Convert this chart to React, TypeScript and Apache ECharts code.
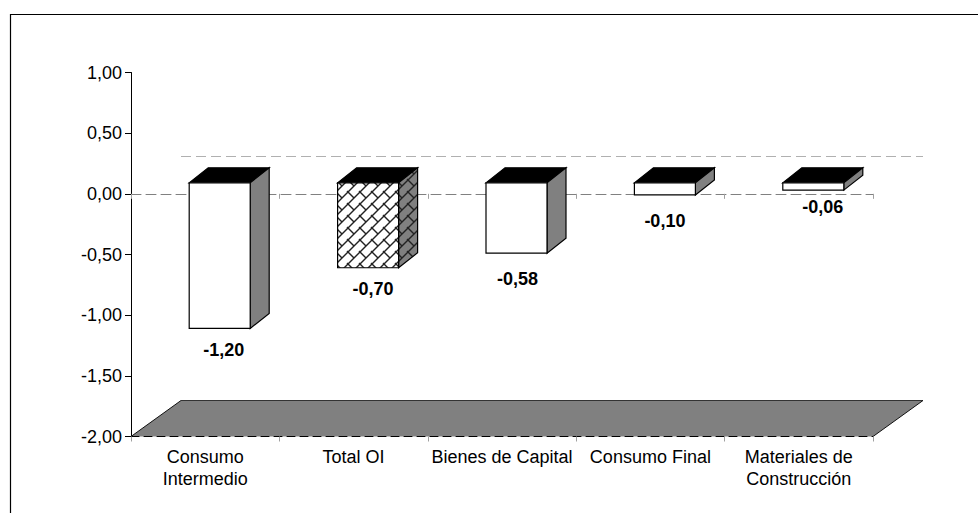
import React, { useEffect, useRef } from "react";
import * as echarts from "echarts";

const categories = ["Consumo\nIntermedio", "Total OI", "Bienes de Capital", "Consumo Final", "Materiales de\nConstrucción"];
const values = [-1.2, -0.7, -0.58, -0.1, -0.06];
const hatched = [false, true, false, false, false];
const labelOffsets = [[4, 22], [5, 21], [1, 26], [0, 26], [9.5, 17]];
const yMin = -2;
const yMax = 1;
const yStep = 0.5;

const BAR_W = 61;
const BAR_SHIFT_X = 14.5;
const BAR_SHIFT_Y = -11;
const SIDE_X = 19;
const SIDE_Y = -15;
const FLOOR_X = 50;
const FLOOR_Y = -36;
const GRAY = "#808080";
const TILE = 12;

function hatchTile(bg: string) {
  const n = TILE;
  const c = document.createElement("canvas");
  c.width = n;
  c.height = n;
  const g = c.getContext("2d")!;
  g.fillStyle = bg;
  g.fillRect(0, 0, n, n);
  g.strokeStyle = "#222";
  g.lineWidth = 1.4;
  for (const o of [-n, 0, n]) {
    g.beginPath();
    g.moveTo(o, n);
    g.lineTo(o + n, 0);
    g.stroke();
  }
  g.beginPath();
  g.moveTo(0, 0);
  g.lineTo(n / 2, n / 2);
  g.stroke();
  g.beginPath();
  g.moveTo(n, n);
  g.lineTo(n - 1, n - 1);
  g.stroke();
  return { image: c, repeat: "repeat", imageWidth: n, imageHeight: n } as any;
}

export default function App() {
  const ref = useRef<HTMLDivElement>(null);
  useEffect(() => {
    const chart = echarts.init(ref.current!, undefined, { renderer: "svg" });
    const white = hatchTile("#ffffff");
    const gray = hatchTile(GRAY);
    const font = "Liberation Sans";
    chart.setOption({
      animation: false,
      backgroundColor: "#fff",
      grid: { left: 131, right: 105, top: 72.5, bottom: 76.5, containLabel: false },
      graphic: [
        { type: "rect", silent: true, z: -1, shape: { x: 10.5, y: 14.5, width: 1000, height: 600 }, style: { fill: "none", stroke: "#000", lineWidth: 1.2 } },
      ],
      xAxis: [
        {
          type: "category",
          data: categories,
          position: "bottom",
          z: 3,
          axisLine: { onZero: false, lineStyle: { color: "#000", type: [8, 5], width: 1 } },
          axisTick: { show: true, length: 5, lineStyle: { color: "#a0a0a0" } },
          axisLabel: { color: "#000", fontFamily: font, fontSize: 18, lineHeight: 22, margin: 9, interval: 0 },
        },
        {
          type: "category",
          data: categories,
          position: "bottom",
          axisLine: { onZero: true, lineStyle: { color: "#808080", type: [10, 5], width: 1 } },
          axisTick: { show: true, length: 5, lineStyle: { color: "#a0a0a0" } },
          axisLabel: { show: false },
        },
      ],
      yAxis: {
        type: "value",
        min: yMin,
        max: yMax,
        interval: yStep,
        axisLine: { show: true, lineStyle: { color: "#000", width: 1 } },
        axisTick: { show: true, length: 6, lineStyle: { color: "#000" } },
        splitLine: { show: false },
        axisLabel: {
          color: "#000",
          fontFamily: font,
          fontSize: 18,
          margin: 9,
          formatter: (v: number) => v.toFixed(2).replace(".", ","),
        },
      },
      series: [
        {
          type: "custom",
          xAxisIndex: 0,
          z: 1,
          silent: true,
          coordinateSystem: "cartesian2d",
          data: [[0, yMin]],
          renderItem: (_p: any, api: any) => {
            const half = api.size([1, 0])[0] / 2;
            const first = api.coord([0, yMin]);
            const last = api.coord([categories.length - 1, yMin]);
            const zero = api.coord([0, 0]);
            const x0 = first[0] - half;
            const x1 = last[0] + half;
            const y0 = first[1];
            const backY = Math.round(zero[1] + FLOOR_Y) - 1.5;
            return {
              type: "group",
              children: [
                {
                  type: "polygon",
                  shape: { points: [[x0, y0], [x1, y0], [x1 + FLOOR_X, y0 + FLOOR_Y], [x0 + FLOOR_X, y0 + FLOOR_Y]] },
                  style: { fill: GRAY, stroke: null },
                },
                { type: "line", shape: { x1: x0, y1: y0, x2: x0 + FLOOR_X, y2: y0 + FLOOR_Y }, style: { stroke: "#111", lineWidth: 1 } },
                { type: "line", shape: { x1: x0 + FLOOR_X, y1: y0 + FLOOR_Y, x2: x1 + FLOOR_X, y2: y0 + FLOOR_Y }, style: { stroke: "#333", lineWidth: 1 } },
                { type: "line", shape: { x1: x1, y1: y0, x2: x1 + FLOOR_X, y2: y0 + FLOOR_Y }, style: { stroke: "#111", lineWidth: 1 } },
                {
                  type: "line",
                  shape: { x1: x0 + FLOOR_X, y1: backY, x2: x1 + FLOOR_X, y2: backY },
                  style: { stroke: "#b0b0b0", lineWidth: 1, lineDash: [10, 5] },
                },
              ],
            };
          },
        },
        {
          type: "custom",
          xAxisIndex: 0,
          z: 5,
          silent: true,
          coordinateSystem: "cartesian2d",
          data: values.map((v, i) => [i, v]),
          encode: { x: 0, y: 1 },
          renderItem: (p: any, api: any) => {
            const i = api.value(0) as number;
            const v = api.value(1) as number;
            const base = api.coord([i, 0]);
            const end = api.coord([i, v]);
            const l = base[0] - BAR_W / 2 + BAR_SHIFT_X;
            const r = l + BAR_W;
            const t = base[1] + BAR_SHIFT_Y;
            const b = end[1] + BAR_SHIFT_Y;
            const isH = hatched[p.dataIndex];
            const edge = { stroke: "#000", lineWidth: 1.2, lineJoin: "miter" };
            return {
              type: "group",
              children: [
                {
                  type: "polygon",
                  shape: { points: [[l, t], [r, t], [r + SIDE_X, t + SIDE_Y], [l + SIDE_X, t + SIDE_Y]] },
                  style: { fill: "#000", ...edge },
                },
                {
                  type: "polygon",
                  shape: { points: [[r, t], [r + SIDE_X, t + SIDE_Y], [r + SIDE_X, b + SIDE_Y], [r, b]] },
                  style: { fill: isH ? gray : GRAY, ...edge },
                },
                {
                  type: "rect",
                  shape: { x: l, y: t, width: BAR_W, height: b - t },
                  style: { fill: isH ? white : "#fff", ...edge },
                },
                {
                  type: "text",
                  style: {
                    x: base[0] + BAR_SHIFT_X + labelOffsets[p.dataIndex][0],
                    y: b + labelOffsets[p.dataIndex][1],
                    text: v.toFixed(2).replace(".", ","),
                    fill: "#000",
                    font: `bold 18px "${font}"`,
                    textAlign: "center",
                    textVerticalAlign: "middle",
                  },
                },
              ],
            };
          },
        },
      ],
    });
    return () => chart.dispose();
  }, []);
  return <div ref={ref} style={{ position: "absolute", left: 0, top: 0, width: 978, height: 513 }} />;
}
